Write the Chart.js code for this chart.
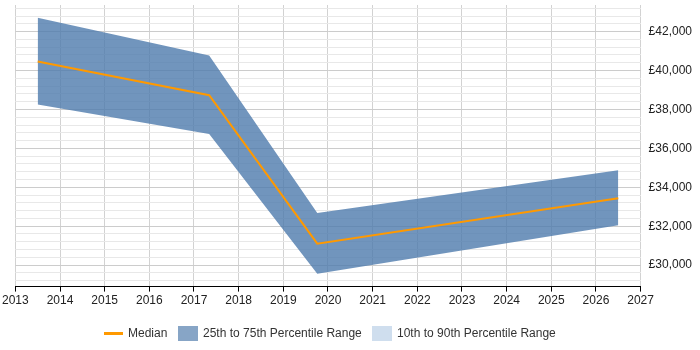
<!DOCTYPE html>
<html>
<head>
<meta charset="utf-8">
<script src="https://cdn.jsdelivr.net/npm/chart.js@4.4.1/dist/chart.umd.min.js"></script>
<style>
    html, body { margin: 0; padding: 0; background: #fff; }
    #wrap { position: relative; width: 700px; height: 350px; }
    #legend {
        position: absolute; left: 0; top: 326px; width: 700px;
        font: 12px "Liberation Sans", Arial, sans-serif; color: #333;
    }
    .legend-node { position: absolute; top: 0; height: 14px; line-height: 14px; white-space: nowrap; }
    .legend-line { position: absolute; width: 19px; height: 3px; top: 6px; background: #ff9900; }
    .legend-box { position: absolute; width: 20px; height: 15px; top: 0; }
</style>
</head>
<body>
<div id="wrap">
    <canvas id="salaryChart" width="700" height="350"></canvas>
    <div id="legend">
        <div class="legend-line" style="left:104px"></div>
        <div class="legend-node" style="left:128px">Median</div>
        <div class="legend-box" style="left:178px; background:#87a5c6"></div>
        <div class="legend-node" style="left:203px">25th to 75th Percentile Range</div>
        <div class="legend-box" style="left:372px; background:#cfdeee"></div>
        <div class="legend-node" style="left:397px">10th to 90th Percentile Range</div>
    </div>
</div>
<script>
// values
const years = [2013.5, 2017.34, 2019.76, 2026.5];
const median = [40470, 38730, 31100, 33440];
const pct25 = [38250, 36740, 29560, 32050];
const pct75 = [42720, 40770, 32680, 34870];

const xTicks = [2013, 2027];
const yRange = [28895, 43370];

const toPoints = arr => arr.map((v, i) => ({ x: years[i], y: v }));
const isStep = (v, s) => Math.abs(v / s - Math.round(v / s)) < 1e-6;

const ctx = document.getElementById('salaryChart').getContext('2d');
new Chart(ctx, {
    type: 'line',
    data: {
        datasets: [
            { label: 'Median', data: toPoints(median), borderColor: '#ff9900', borderWidth: 2, pointRadius: 0, fill: false },
            { label: '75th', data: toPoints(pct75), borderWidth: 0, borderColor: 'rgba(0,0,0,0)', pointRadius: 0,
              fill: '+1', backgroundColor: 'rgba(78,122,173,0.8)' },
            { label: '25th', data: toPoints(pct25), borderWidth: 0, borderColor: 'rgba(0,0,0,0)', pointRadius: 0, fill: false }
        ]
    },
    options: {
        responsive: false,
        animation: false,
        layout: { padding: { left: 3, right: 0, top: 5, bottom: 40 } },
        plugins: { legend: { display: false }, tooltip: { enabled: false } },
        elements: { line: { tension: 0 } },
        scales: {
            x: {
                type: 'linear',
                min: xTicks[0],
                max: xTicks[1],
                grid: { color: '#d2d2d2', tickColor: '#000', tickLength: 5 },
                border: { color: '#000', width: 1 },
                ticks: {
                    stepSize: 1, autoSkip: false, maxRotation: 0, padding: 2,
                    color: '#222', font: { family: 'Liberation Sans', size: 12 },
                    callback: v => String(v)
                }
            },
            y: {
                type: 'linear',
                position: 'right',
                min: yRange[0],
                max: yRange[1],
                afterBuildTicks: axis => {
                    const t = [];
                    for (let v = Math.ceil(yRange[0] / 400) * 400; v <= yRange[1]; v += 400) t.push({ value: v });
                    axis.ticks = t;
                },
                afterFit: axis => { axis.paddingTop = 0; axis.paddingBottom = 0; },
                grid: {
                    drawTicks: false,
                    color: c => (c.tick && isStep(c.tick.value, 2000)) ? '#cccccc' : '#e8e8e8'
                },
                border: { display: false },
                ticks: {
                    autoSkip: false, padding: 8,
                    color: '#222', font: { family: 'Liberation Sans', size: 12 },
                    callback: v => isStep(v, 2000) ? '£' + Math.round(v).toLocaleString('en-GB') : ''
                }
            }
        }
    }
});
</script>
</body>
</html>
